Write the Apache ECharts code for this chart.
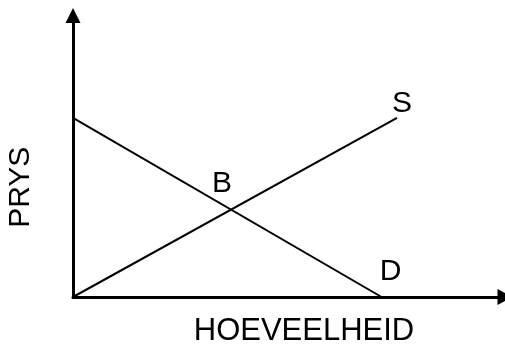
<!DOCTYPE html>
<html>
<head>
<meta charset="utf-8">
<script src="https://cdn.jsdelivr.net/npm/echarts@6/dist/echarts.min.js"></script>
<style>
html, body { margin: 0; padding: 0; background: #fff; }
#chart { width: 505px; height: 347px; }
</style>
</head>
<body>
<div id="chart"></div>
<script>
// aanbod (S) en vraag (D) lyne
var supplyLine = [[0, 0], [10.5, 7]];
var demandLine = [[0, 7], [10, 0]];
var labelNames = ['S', 'B', 'D'];
var labelPoints = [[10.5, 7], [5.12, 3.415], [10, 0]];
var xName = 'HOEVEELHEID';
var yName = 'PRYS';

var labelOffsets = [[5, -14], [-9, -26], [9, -25]];
var font = 'Liberation Sans, Arial, sans-serif';

var labelData = [];
for (var i = 0; i < labelNames.length; i++) {
	labelData.push({
		name: labelNames[i],
		value: labelPoints[i],
		label: { offset: labelOffsets[i] }
	});
}

var option = {
	animation: false,
	grid: { left: 73, right: 0, top: 15.5, bottom: 50, outerBoundsMode: 'none' },
	xAxis: {
		type: 'value',
		min: 0,
		max: 14,
		name: xName,
		nameLocation: 'middle',
		nameGap: 19,
		nameTextStyle: { color: '#000', fontSize: 31, fontFamily: font, padding: [0, 0, 0, 30] },
		axisLine: {
			lineStyle: { color: '#000', width: 3 },
			symbol: ['none', 'triangle'],
			symbolSize: [16, 15]
		},
		axisTick: { show: false },
		axisLabel: { show: false },
		splitLine: { show: false }
	},
	yAxis: {
		type: 'value',
		min: 0,
		max: 11,
		name: yName,
		nameLocation: 'middle',
		nameGap: 37,
		nameTextStyle: { color: '#000', fontSize: 30, fontFamily: font, padding: [0, 62, 0, 0] },
		axisLine: {
			lineStyle: { color: '#000', width: 3 },
			symbol: ['none', 'triangle'],
			symbolSize: [15, 15]
		},
		axisTick: { show: false },
		axisLabel: { show: false },
		splitLine: { show: false }
	},
	series: [
		{
			name: 'S',
			type: 'line',
			data: supplyLine,
			symbol: 'none',
			lineStyle: { color: '#000', width: 2 }
		},
		{
			name: 'D',
			type: 'line',
			data: demandLine,
			symbol: 'none',
			lineStyle: { color: '#000', width: 2 }
		},
		{
			type: 'scatter',
			data: labelData,
			symbolSize: 0,
			itemStyle: { opacity: 1 },
			label: {
				show: true,
				position: 'inside',
				formatter: '{b}',
				color: '#000',
				fontSize: 30,
				fontFamily: font
			}
		}
	]
};

var myChart = echarts.init(document.getElementById('chart'));
myChart.setOption(option);
</script>
</body>
</html>
